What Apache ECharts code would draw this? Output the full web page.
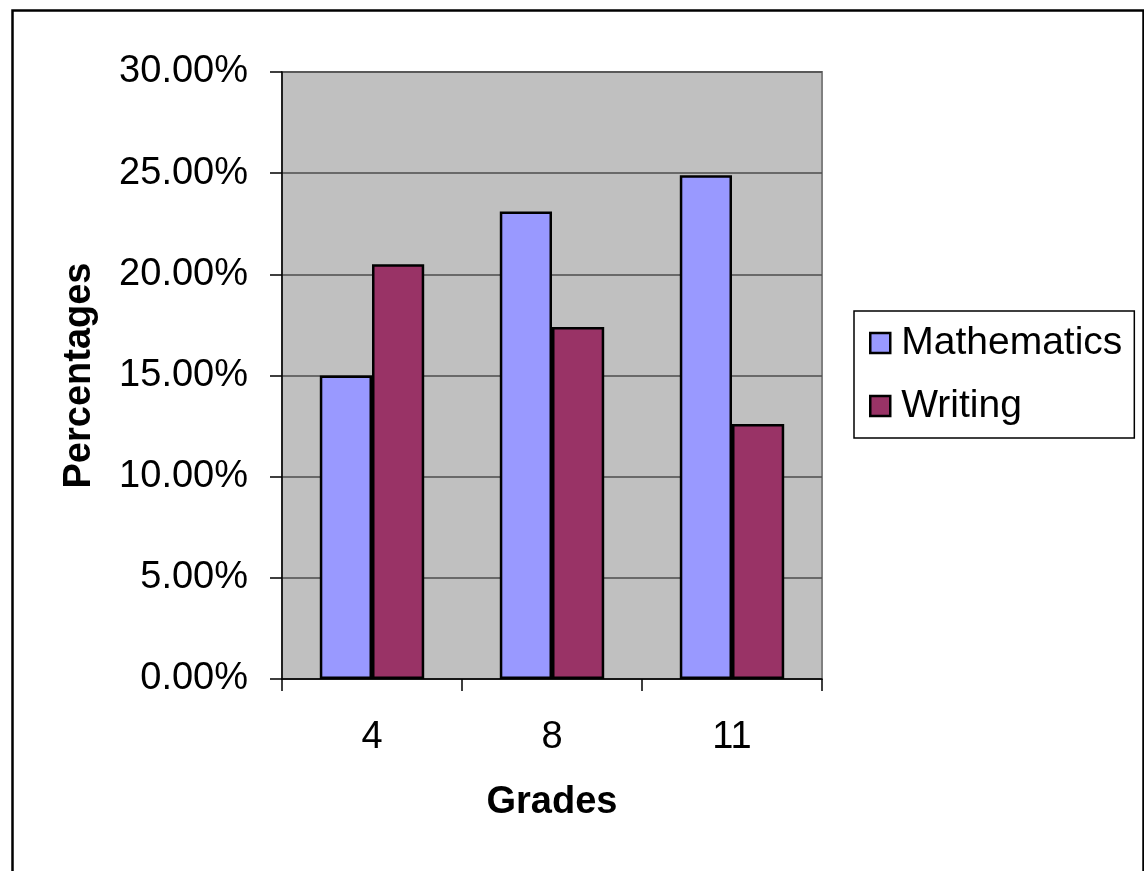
<!DOCTYPE html>
<html>
<head>
<meta charset="utf-8">
<script src="https://cdn.jsdelivr.net/npm/echarts@6/dist/echarts.min.js"></script>
<style>
html,body{margin:0;padding:0;background:#fff;}
#c{width:1144px;height:871px;}
</style>
</head>
<body>
<div id="c"></div>
<script>
const categories = ['4', '8', '11'];
const mathematics = [15.0, 23.1, 24.9];
const writing = [20.5, 17.4, 12.6];
const seriesNames = ['Mathematics', 'Writing'];
const yTicks = { min: 0, max: 30, interval: 5 };

const chart = echarts.init(document.getElementById('c'));
const font = 'Liberation Sans, Arial, sans-serif';
chart.setOption({
  animation: false,
  backgroundColor: '#fff',
  graphic: [{
    type: 'rect', left: 10, top: 8,
    shape: { width: 1131, height: 900 },
    style: { fill: 'none', stroke: '#000', lineWidth: 2.5 }, z: -1
  }],
  grid: {
    left: 282, right: 322, top: 72, bottom: 192,
    show: true, backgroundColor: '#C0C0C0', borderColor: '#808080', borderWidth: 2
  },
  legend: {
    orient: 'vertical', left: 854, top: 311,
    data: seriesNames,
    borderColor: '#000', borderWidth: 1.5,
    padding: [12, 12, 12, 15],
    itemWidth: 20, itemHeight: 20, itemGap: 23,
    icon: 'rect',
    itemStyle: { borderColor: '#000', borderWidth: 2.5 },
    textStyle: { fontFamily: font, fontSize: 39, color: '#000', lineHeight: 40, padding: [0, 0, 0, 6] }
  },
  xAxis: {
    type: 'category', data: categories,
    name: 'Grades', nameLocation: 'middle', nameGap: 105,
    nameTextStyle: { fontFamily: font, fontSize: 38, fontWeight: 'bold', color: '#000' },
    axisLine: { show: true, lineStyle: { color: '#000', width: 1.5 } },
    axisTick: { show: true, length: 12, lineStyle: { color: '#000', width: 1.5 } },
    axisLabel: { fontFamily: font, fontSize: 38, color: '#000', margin: 40 },
    splitLine: { show: false }
  },
  yAxis: {
    type: 'value', min: yTicks.min, max: yTicks.max, interval: yTicks.interval,
    name: 'Percentages', nameLocation: 'middle', nameGap: 183, nameRotate: 90,
    nameTextStyle: { fontFamily: font, fontSize: 38, fontWeight: 'bold', color: '#000' },
    axisLine: { show: true, lineStyle: { color: '#000', width: 1.5 } },
    axisTick: { show: true, length: 12, lineStyle: { color: '#000', width: 1.5 } },
    axisLabel: { fontFamily: font, fontSize: 38, color: '#000', margin: 34,
      formatter: v => v.toFixed(2) + '%' },
    splitLine: { show: true, lineStyle: { color: '#4d4d4d', width: 1.5 } }
  },
  series: [
    { name: seriesNames[0], type: 'bar', data: mathematics, barGap: '0%', barCategoryGap: '42%',
      itemStyle: { color: '#9999FF', borderColor: '#000', borderWidth: 2.5 } },
    { name: seriesNames[1], type: 'bar', data: writing, barGap: '0%', barCategoryGap: '42%',
      itemStyle: { color: '#993366', borderColor: '#000', borderWidth: 2.5 } }
  ]
});
</script>
</body>
</html>
